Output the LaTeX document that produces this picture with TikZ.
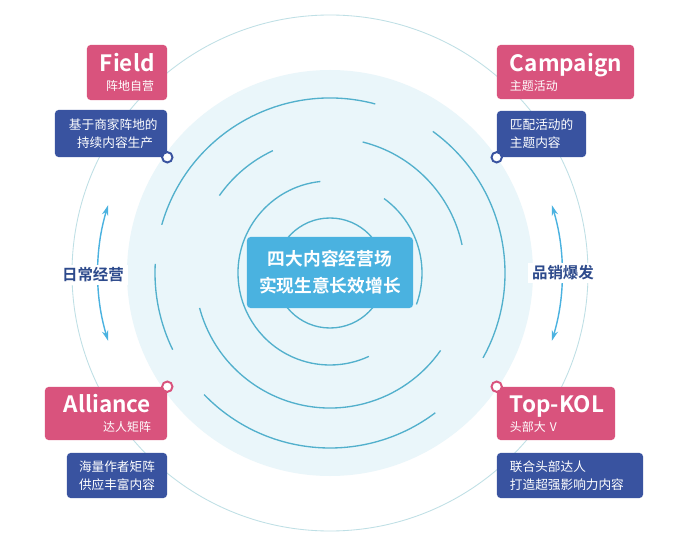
\documentclass[tikz,border=0pt]{standalone}
\usepackage{fontspec}
\setmainfont{Noto Sans CJK SC}[BoldFont={Noto Sans CJK SC Bold}]
\usepackage{xcolor}
\usetikzlibrary{arrows.meta}
\definecolor{fieldpink}{HTML}{D9537D}
\definecolor{deepblue}{HTML}{3953A0}
\definecolor{skyblue}{HTML}{4AB2E0}
\definecolor{discfill}{HTML}{EAF6FA}
\definecolor{orbit}{HTML}{BEDFE5}
\definecolor{ripple}{HTML}{52B0CC}
\definecolor{labelblue}{HTML}{2D4A8C}

\begin{document}
\begin{tikzpicture}[x=0.025cm, y=0.025cm,
  >={Stealth[length=2.6mm,width=1.6mm]},
  pinkbox/.style={fill=fieldpink, text=white, rounded corners=2.5pt,
    inner xsep=0.325cm, inner ysep=0pt,
    font=\fontsize{8.5pt}{13.5pt}\selectfont},
  bluebox/.style={fill=deepblue, text=white, rounded corners=2.5pt,
    inner xsep=0.325cm, inner ysep=0pt,
    font=\fontsize{9pt}{12.8pt}\selectfont},
  ripplearc/.style={ripple, line width=0.95pt},
  knob/.style={circle, draw=#1, fill=white, line width=1.4pt,
    minimum size=0.26cm, inner sep=0pt},
  sidetag/.style={fill=white, text=labelblue, inner xsep=3pt, inner ysep=2pt,
    font=\fontsize{11pt}{13pt}\selectfont\bfseries},
  swing/.style={<->, skyblue, line width=1pt}]

  \fill[white] (-330,-260) rectangle (350,273);
  \useasboundingbox (-330,-260) rectangle (350,273);

  % ============== Backdrop: disc, orbit, ripples ==============
  \fill[discfill] (0,0) circle[radius=203];
  \draw[orbit, line width=0.6pt] (0,0) circle[radius=258];

  % Inner ring
  \draw[ripplearc] (0,0) circle[radius=55];

  % Second ring
  \draw[ripplearc] (96:92) arc[start angle=96, end angle=295, radius=92];
  \draw[ripplearc] (-20:92) arc[start angle=-20, end angle=54, radius=92];

  % Third ring
  \draw[ripplearc] (115:135) arc[start angle=115, end angle=145, radius=135];
  \draw[ripplearc] (12:135) arc[start angle=12, end angle=76, radius=135];
  \draw[ripplearc] (195:135) arc[start angle=195, end angle=325, radius=135];

  % Outer ring
  \draw[ripplearc] (75:175) arc[start angle=75, end angle=164, radius=175];
  \draw[ripplearc] (177:175) arc[start angle=177, end angle=206, radius=175];
  \draw[ripplearc] (224:175) arc[start angle=224, end angle=307, radius=175];
  \draw[ripplearc] (-29:175) arc[start angle=-29, end angle=54, radius=175];

  % ============== Centre ==============
  \node[fill=skyblue, text=white, rounded corners=2.5pt,
    minimum width=4.15cm, minimum height=1.775cm, align=center,
    font=\fontsize{12.6pt}{19pt}\selectfont\bfseries] (hub) at (0,0.5)
    {四大内容经营场\\实现生意长效增长};

  % ============== Side swings ==============
  \coordinate (dailytop) at (163:232);
  \draw[swing] (dailytop) arc[start angle=163, end angle=197, radius=232];
  \node[sidetag] (daily) at (-237,-2) {日常经营};

  \coordinate (bursttop) at (17:232);
  \draw[swing] (bursttop) arc[start angle=17, end angle=-17, radius=232];
  \node[sidetag] (burst) at (233,0) {品销爆发};

  % ============== LEFT TOP: Field ==============
  \node[pinkbox, text width=1.35cm, minimum height=1.375cm, align=right]
    (field) at (-203,200.5)
    {{\fontsize{16pt}{16pt}\selectfont\bfseries Field}\\阵地自营};
  \node[bluebox, inner xsep=0.35cm, text width=2.1cm, minimum height=1.175cm,
    align=right] (fieldsub) at (-219,139.5)
    {基于商家阵地的\\持续内容生产};
  \node[knob=deepblue] (fieldknob) at (fieldsub.south east) {};

  % ============== RIGHT TOP: Campaign ==============
  \node[pinkbox, text width=2.775cm, minimum height=1.35cm, align=left]
    (camp) at (235.5,201)
    {{\fontsize{16pt}{16pt}\selectfont\bfseries Campaign}\\主题活动};
  \node[bluebox, text width=1.575cm, minimum height=1.15cm, align=left]
    (campsub) at (211.5,139)
    {匹配活动的\\主题内容};
  \node[knob=deepblue] (campknob) at (campsub.south west) {};

  % ============== LEFT BOTTOM: Alliance ==============
  \node[pinkbox, inner xsep=0.4cm, text width=2.25cm, minimum height=1.325cm,
    align=right] (alli) at (-224,-140.5)
    {{\fontsize{16pt}{16pt}\selectfont\bfseries Alliance}\\达人矩阵};
  \node[knob=fieldpink] (alliknob) at (alli.north east) {};
  \node[bluebox, inner xsep=0.275cm, text width=1.95cm, minimum height=1.125cm,
    align=center] (allisub) at (-213,-202.5)
    {海量作者矩阵\\供应丰富内容};

  % ============== RIGHT BOTTOM: Top-KOL ==============
  \node[pinkbox, text width=2.3cm, minimum height=1.325cm, align=left]
    (kol) at (226,-140.5)
    {{\fontsize{16pt}{16pt}\selectfont\bfseries \mbox{Top-KOL}}\\头部大 V};
  \node[knob=fieldpink] (kolknob) at (kol.north west) {};
  \node[bluebox, text width=3.0cm, minimum height=1.125cm, align=left]
    (kolsub) at (240,-202.5)
    {联合头部达人\\打造超强影响力内容};

\end{tikzpicture}
\end{document}
